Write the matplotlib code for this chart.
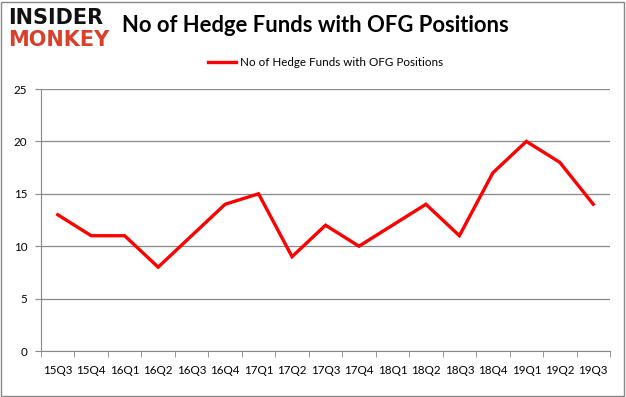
import matplotlib.pyplot as plt
from matplotlib.patches import Rectangle

quarters = ["15Q3", "15Q4", "16Q1", "16Q2", "16Q3", "16Q4", "17Q1", "17Q2", "17Q3",
            "17Q4", "18Q1", "18Q2", "18Q3", "18Q4", "19Q1", "19Q2", "19Q3"]
funds = [13, 11, 11, 8, 11, 14, 15, 9, 12, 10, 12, 14, 11, 17, 20, 18, 14]
y_ticks = [0, 5, 10, 15, 20, 25]

plt.rcParams['font.family'] = ['Lato', 'DejaVu Sans']

fig = plt.figure(figsize=(6.26, 3.97), dpi=100)
fig.patches.append(Rectangle((0.002, 0.003), 0.995, 0.993, transform=fig.transFigure,
                             fill=False, edgecolor='#888888', linewidth=1))

ax = fig.add_axes([41 / 626, 46 / 397, 569 / 626, 262 / 397])
x = list(range(len(quarters)))
ax.plot(x, funds, color='#ff0000', linewidth=2.4, solid_joinstyle='miter',
        label="No of Hedge Funds with OFG Positions")

ax.set_xlim(-0.5, len(quarters) - 0.5)
ax.set_ylim(0, 25)
ax.set_yticks(y_ticks)
ax.set_xticks(x)
ax.set_xticklabels(quarters, fontsize=8.4)
ax.set_xticks([i - 0.5 for i in range(len(quarters) + 1)], minor=True)
ax.tick_params(axis='x', which='major', length=0, pad=10)
ax.tick_params(axis='x', which='minor', length=4, color='#888888')
ax.tick_params(axis='y', length=4, color='#888888', labelsize=8.4, pad=6)
ax.grid(axis='y', color='#888888', linewidth=0.9)
ax.set_axisbelow(True)
for side in ['top', 'right']:
    ax.spines[side].set_visible(False)
for side in ['left', 'bottom']:
    ax.spines[side].set_color('#888888')

ax.legend(loc='lower center', bbox_to_anchor=(0.5, 1.04), frameon=False,
          fontsize=8.4, handlelength=2.4, handletextpad=0.4)

fig.text(122 / 626, 1 - 26 / 397, "No of Hedge Funds with OFG Positions",
         fontsize=15.8, fontweight='bold', va='center', ha='left')
fig.text(8 / 626, 1 - 18 / 397, "INSIDER", fontsize=15, fontweight='heavy',
         family='DejaVu Sans', va='center', ha='left', color='#111111')
fig.text(8 / 626, 1 - 40 / 397, "MONKEY", fontsize=15, fontweight='heavy',
         family='DejaVu Sans', va='center', ha='left', color='#d9402b')

fig.savefig("out.png", dpi=100)
